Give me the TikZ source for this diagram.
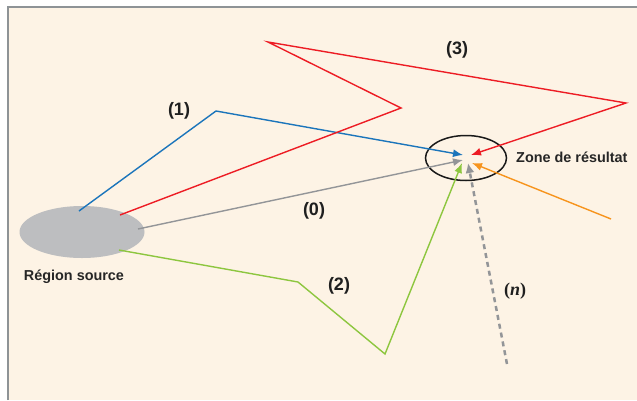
\documentclass[tikz,border=0pt]{standalone}
\usepackage{fontspec}
\setmainfont{Liberation Sans}
\newfontfamily\nserif{Liberation Serif}
\usetikzlibrary{arrows.meta,shapes.geometric}
\definecolor{bg}{HTML}{FDF3E5}
\definecolor{frame}{HTML}{8E9396}
\definecolor{srcgray}{HTML}{BDBEC0}
\definecolor{pblue}{HTML}{1B75BB}
\definecolor{pred}{HTML}{ED1C24}
\definecolor{pgray}{HTML}{939598}
\definecolor{pgreen}{HTML}{8DC63F}
\definecolor{porange}{HTML}{F7941D}
\tikzset{
  ray/.style={line width=1.4pt, -{Latex[length=10pt,width=8pt]}},
  lbl/.style={font=\bfseries\fontsize{18}{20}\selectfont, text=black!88, inner sep=0pt},
  captxt/.style={font=\bfseries\fontsize{14.4}{16}\selectfont, text=black!85, inner sep=0pt},
}
\begin{document}
\begin{tikzpicture}[x=1pt,y=-1pt]
\useasboundingbox (0,0) rectangle (637,400);
\fill[white] (0,0) rectangle (637,400);
\fill[bg] (8,7) rectangle (637,400);
\draw[frame, line width=1.5pt] (8,400) -- (8,7) -- (637,7);
% source and result
\node[ellipse, fill=srcgray, minimum width=125pt, minimum height=52pt, inner sep=0pt] (src) at (82,232) {};
\node[ellipse, draw=black!90, line width=1.5pt, minimum width=81pt, minimum height=45pt, inner sep=0pt] (res) at (466,158) {};
\node[captxt] (srclbl) at (74,277) {Région source};
\node[captxt, anchor=west] (reslbl) at (516,157) {Zone de résultat};
% coordinates
\coordinate (b0) at (79,211);
\coordinate (b1) at (216,111);
\coordinate (bt) at (463,155);
\coordinate (r0) at (120,215);
\coordinate (r1) at (401,108);
\coordinate (r2) at (268,42);
\coordinate (r3) at (626,103);
\coordinate (rt) at (471,155);
\coordinate (g0) at (138,229);
\coordinate (gt) at (463,160);
\coordinate (v0) at (119,250);
\coordinate (v1) at (298,282);
\coordinate (v2) at (385,354);
\coordinate (vt) at (462,163);
\coordinate (d0) at (507,364);
\coordinate (dt) at (468,163);
\coordinate (o0) at (611,219);
\coordinate (ot) at (472,163);
% rays
\draw[ray, pblue] (b0) -- (b1) -- (bt);
\draw[ray, pred] (r0) -- (r1) -- (r2) -- (r3) -- (rt);
\draw[ray, pgray] (g0) -- (gt);
\draw[ray, pgreen] (v0) -- (v1) -- (v2) -- (vt);
\draw[ray, pgray, line width=2.5pt, dash pattern=on 5pt off 4pt, -{Latex[length=10pt,width=9pt]}] (d0) -- (dt);
\draw[ray, porange] (o0) -- (ot);
% labels
\node[lbl] (l1) at (179,111) {(1)};
\node[lbl] (l3) at (457,50) {(3)};
\node[lbl] (l0) at (314,211) {(0)};
\node[lbl] (l2) at (339,286) {(2)};
\node[lbl, font=\nserif\bfseries\fontsize{18}{20}\selectfont] (ln) at (515,291) {(\textit{n})};
\end{tikzpicture}
\end{document}
